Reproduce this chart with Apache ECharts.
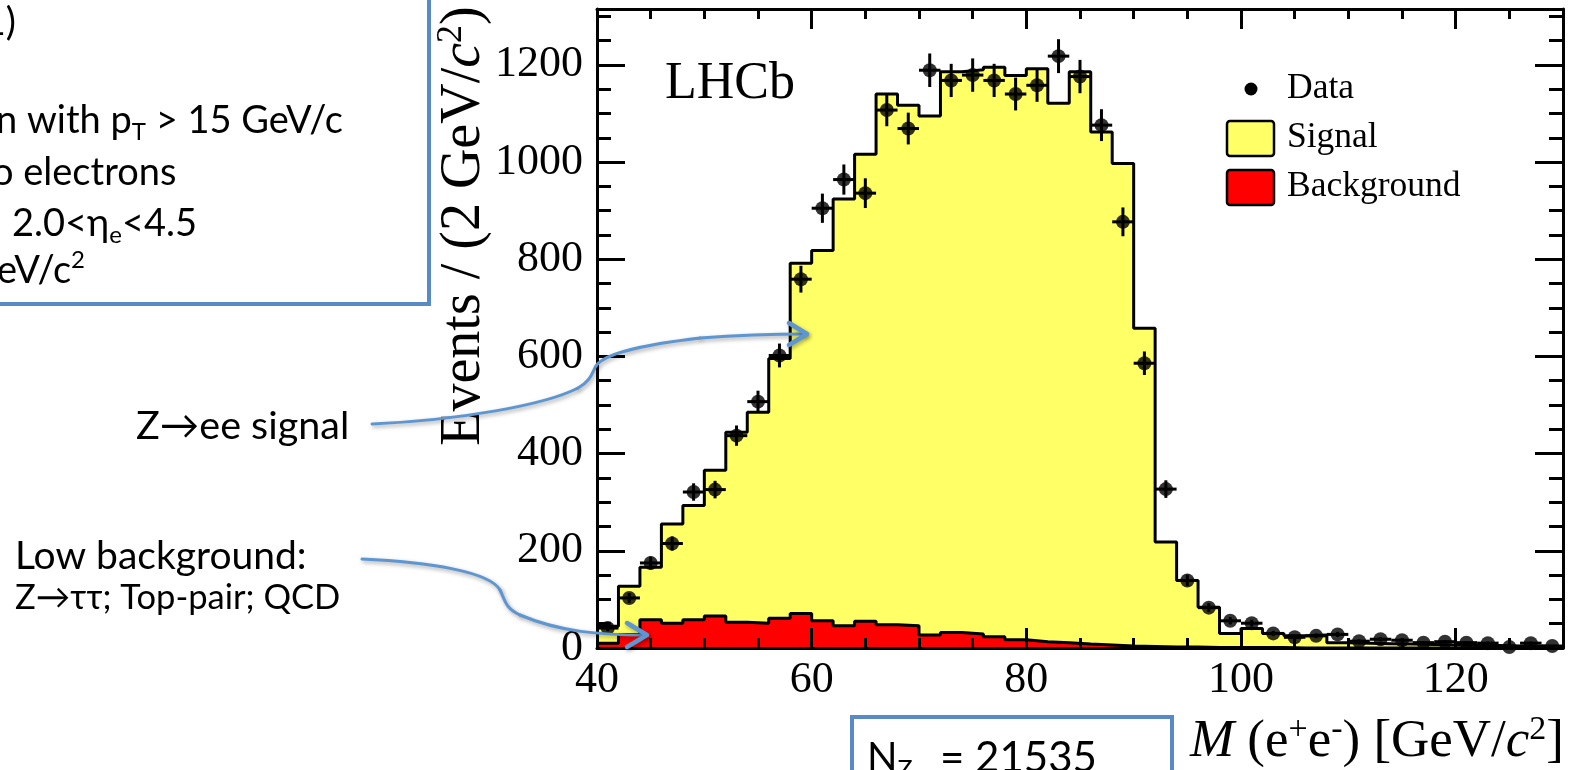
<!DOCTYPE html>
<html>
<head>
<meta charset="utf-8">
<title>Z → ee invariant mass</title>
<script src="https://cdn.jsdelivr.net/npm/echarts@6/dist/echarts.min.js"></script>
<style>
  html, body { margin: 0; padding: 0; background: #ffffff; }
  #chart { width: 1577px; height: 770px; }
</style>
</head>
<body>
<div id="chart"></div>
<script>
// Lower edges of the 2 GeV/c^2 mass bins
const binLow = [40, 42, 44, 46, 48, 50, 52, 54, 56, 58, 60, 62, 64, 66, 68, 70, 72, 74, 76, 78,
                80, 82, 84, 86, 88, 90, 92, 94, 96, 98, 100, 102, 104, 106, 108, 110, 112, 114, 116, 118,
                120, 122, 124, 126, 128];
const BIN_WIDTH = 2;

// Expected Z -> ee signal per bin (stacked on top of the background)
const signal = [35, 99, 108, 204, 235, 300, 391, 434, 535, 721,
                762, 878, 961, 1092, 1071, 1068, 1154, 1161, 1172, 1161,
                1179, 1110, 1178, 1056, 993, 655, 216, 137, 83, 29,
                39, 29, 25, 27, 11, 10, 9, 8, 7, 6,
                5, 5, 4, 4, 3];

// Background (Z -> tautau, top pairs, QCD) per bin
const background = [10, 28, 58, 51, 58, 66, 53, 51, 61, 71,
                    56, 46, 55, 48, 46, 27, 32, 29, 23, 17,
                    13, 11, 8, 6, 4, 3, 2, 2, 1, 1,
                    1, 1, 0, 0, 0, 0, 0, 0, 0, 0,
                    0, 0, 0, 0, 0];

// Observed events per bin
const observed = [41, 103, 175, 215, 321, 326, 437, 507, 602, 759,
                  905, 964, 936, 1107, 1069, 1189, 1168, 1179, 1168, 1140,
                  1158, 1218, 1176, 1076, 877, 586, 327, 139, 83, 56,
                  51, 30, 22, 25, 28, 14, 18, 16, 11, 13,
                  11, 10, 2, 10, 4];

const xTicks = { min: 40, max: 130, step: 20 };
const yTicks = { min: 0, max: 1315, step: 200 };

const SERIF = 'Liberation Serif';
const SANS = 'Lato';
const BOX_BLUE = '#5A8AC6';
const ARROW_BLUE = '#5E96D1';

// stacked expectation: background with the signal piled on top of it
const stackTop = signal.map((s, i) => s + background[i]);

// histogram step outlines: one point per lower edge plus the closing upper edge
function stepPoints(values) {
  const pts = binLow.map((x, i) => [x, values[i]]);
  pts.push([binLow[binLow.length - 1] + BIN_WIDTH, values[values.length - 1]]);
  return pts;
}

const dataPoints = binLow.map((x, i) => [x + BIN_WIDTH / 2, observed[i]]);

const tickLine = { color: '#000', width: 3 };

function xAxisDef(pos, labels) {
  return {
    type: 'value', position: pos, min: xTicks.min, max: xTicks.max, interval: xTicks.step,
    z: 10,
    axisLine: { show: true, onZero: false, lineStyle: tickLine },
    axisTick: { show: true, inside: true, length: 20, lineStyle: tickLine },
    minorTick: { show: true, splitNumber: 4, length: 10, lineStyle: tickLine },
    splitLine: { show: false },
    minorSplitLine: { show: false },
    axisLabel: {
      show: labels, margin: 10, showMaxLabel: false,
      formatter: v => String(v),
      fontFamily: SERIF, fontSize: 44, color: '#000'
    }
  };
}

function yAxisDef(pos, labels) {
  return {
    type: 'value', position: pos, min: yTicks.min, max: yTicks.max, interval: yTicks.step,
    z: 10,
    axisLine: { show: true, onZero: false, lineStyle: tickLine },
    axisTick: { show: true, inside: true, length: 28, lineStyle: tickLine },
    minorTick: { show: true, splitNumber: 4, length: 14, lineStyle: tickLine },
    splitLine: { show: false },
    minorSplitLine: { show: false },
    axisLabel: {
      show: labels, margin: 14, showMaxLabel: false,
      formatter: v => String(v),
      fontFamily: SERIF, fontSize: 44, color: '#000'
    }
  };
}

// rich-text styles for the slide annotations (sans) and the plot titles (serif)
function sansRich(size, lh) {
  const small = Math.round(size * 0.62);
  return {
    n: { fontFamily: SANS, fontSize: size, lineHeight: lh, fill: '#000' },
    b: { fontFamily: SANS, fontSize: small, lineHeight: small, verticalAlign: 'bottom', fill: '#000' },
    t: { fontFamily: SANS, fontSize: small, lineHeight: small, verticalAlign: 'top', fill: '#000' }
  };
}
function serifRich(size, lh) {
  const small = Math.round(size * 0.64);
  return {
    n: { fontFamily: SERIF, fontSize: size, lineHeight: lh, fill: '#000' },
    i: { fontFamily: SERIF, fontSize: size, lineHeight: lh, fontStyle: 'italic', fill: '#000' },
    s: { fontFamily: SERIF, fontSize: small, lineHeight: small, verticalAlign: 'top', fill: '#000' }
  };
}

function sansText(x, y, text, size, align) {
  return {
    type: 'text', x: x, y: y, z: 50,
    style: { text: text, rich: sansRich(size, size + 8), align: align || 'left', verticalAlign: 'middle',
             fontFamily: SANS, fontSize: size, fill: '#000' }
  };
}

const arrowStyle = {
  stroke: ARROW_BLUE, lineWidth: 3, fill: null, lineCap: 'round', lineJoin: 'round',
  shadowBlur: 4, shadowColor: 'rgba(0,0,0,0.35)', shadowOffsetX: 1.5, shadowOffsetY: 2
};

// a smooth connector made of cubic segments [x1, y1, cx1, cy1, cx2, cy2, x2, y2]
function connector(segments) {
  return segments.map(s => ({
    type: 'bezierCurve', z: 60,
    shape: { x1: s[0], y1: s[1], cpx1: s[2], cpy1: s[3], cpx2: s[4], cpy2: s[5], x2: s[6], y2: s[7] },
    style: arrowStyle
  }));
}
function arrowHead(points) {
  return { type: 'polyline', z: 60, shape: { points: points },
           style: Object.assign({}, arrowStyle, { lineWidth: 4.5 }) };
}

function legendText(y, text) {
  return { type: 'text', x: 1287, y: y, z: 50,
           style: { text: text, fontFamily: SERIF, fontSize: 35.5, fill: '#000', verticalAlign: 'middle' } };
}

const graphics = [
  // selection box (partly outside the page on the left/top)
  { type: 'rect', z: 40, shape: { x: -10, y: -10, width: 439, height: 314 },
    style: { fill: null, stroke: BOX_BLUE, lineWidth: 4 } },
  sansText(16, 23, '{n|1)}', 38, 'right'),
  sansText(-4, 121, '{n|n with p}{b|T}{n| > 15 GeV/c}', 38),
  sansText(-8, 173, '{n|o electrons}', 38),
  sansText(12, 224, '{n|2.0<η}{b|e}{n|<4.5}', 38),
  sansText(-3, 271, '{n|eV/c}{t|2}', 38),

  // signal / background annotations with curved arrows
  sansText(136, 426, '{n|Z→ee signal}', 39.5),
  sansText(15, 556, '{n|Low background:}', 39),
  sansText(15, 598, '{n|Z→ττ; Top-pair; QCD}', 34.5)
].concat(
  connector([
    [372, 424, 460, 420, 545, 405, 578, 388],
    [578, 388, 592, 380, 592, 372, 596, 366],
    [596, 366, 605, 352, 650, 344, 700, 338],
    [700, 338, 740, 335, 780, 334, 806, 334]
  ]),
  [arrowHead([[789, 323], [807, 334], [789, 345]])],
  connector([
    [362, 559, 430, 562, 490, 572, 500, 590],
    [500, 590, 505, 600, 505, 608, 520, 615],
    [520, 615, 560, 632, 600, 635, 646, 635]
  ]),
  [arrowHead([[627, 623], [647, 635], [627, 647]])],
  [
    // yield box at the bottom
    { type: 'rect', z: 40, shape: { x: 852, y: 717, width: 320, height: 80 },
      style: { fill: null, stroke: BOX_BLUE, lineWidth: 4 } },
    sansText(867, 758, '{n|N}{b|Z}', 40),
    sansText(940, 758, '{n|= 21535}', 42),

    // experiment label
    { type: 'text', x: 665, y: 84, z: 50,
      style: { text: 'LHCb', fontFamily: SERIF, fontSize: 52, fill: '#000', align: 'left', verticalAlign: 'middle' } },

    // axis titles
    { type: 'text', x: 464, y: 226, rotation: Math.PI / 2, z: 50,
      style: { text: '{n|Events / (2 GeV/}{i|c}{s|2}{n|)}', rich: serifRich(56, 60),
               align: 'center', verticalAlign: 'middle', fontFamily: SERIF, fontSize: 56, fill: '#000' } },
    { type: 'text', x: 1564, y: 742, z: 50,
      style: { text: '{i|M}{n| (e}{s|+}{n|e}{s|-}{n|) [GeV/}{i|c}{s|2}{n|]}', rich: serifRich(53, 57),
               align: 'right', verticalAlign: 'middle', fontFamily: SERIF, fontSize: 53, fill: '#000' } },

    // legend
    { type: 'circle', z: 50, shape: { cx: 1251, cy: 89, r: 6.5 }, style: { fill: '#000' } },
    { type: 'rect', z: 50, shape: { x: 1227, y: 121, width: 47, height: 35, r: 3 },
      style: { fill: '#ffff66', stroke: '#000', lineWidth: 2.5 } },
    { type: 'rect', z: 50, shape: { x: 1227, y: 170, width: 47, height: 35, r: 3 },
      style: { fill: '#ff0000', stroke: '#000', lineWidth: 2.5 } },
    legendText(89, 'Data'),
    legendText(138, 'Signal'),
    legendText(187, 'Background')
  ]
);

const chart = echarts.init(document.getElementById('chart'), null, { renderer: 'canvas' });

chart.setOption({
  animation: false,
  backgroundColor: '#ffffff',
  grid: { left: 597, right: 14, top: 9, bottom: 122, containLabel: false, outerBoundsMode: 'none' },
  xAxis: [xAxisDef('bottom', true), xAxisDef('top', false)],
  yAxis: [yAxisDef('left', true), yAxisDef('right', false)],
  series: [
    {
      name: 'Signal', type: 'line', step: 'end',
      xAxisIndex: 0, yAxisIndex: 0, z: 2,
      symbol: 'none', showSymbol: false,
      data: stepPoints(stackTop),
      lineStyle: { color: '#000', width: 3 },
      areaStyle: { color: '#ffff66', opacity: 1 }
    },
    {
      name: 'Background', type: 'line', step: 'end',
      xAxisIndex: 0, yAxisIndex: 0, z: 3,
      symbol: 'none', showSymbol: false,
      data: stepPoints(background),
      lineStyle: { color: '#000', width: 3 },
      areaStyle: { color: '#ff0000', opacity: 1 }
    },
    {
      name: 'Data errors', type: 'custom', xAxisIndex: 0, yAxisIndex: 0, z: 4,
      data: dataPoints,
      encode: { x: 0, y: 1 },
      renderItem: function (params, api) {
        const xc = api.value(0), n = api.value(1);
        const err = Math.sqrt(n);
        const h0 = api.coord([xc - BIN_WIDTH / 2, n]);
        const h1 = api.coord([xc + BIN_WIDTH / 2, n]);
        const v0 = api.coord([xc, n - err]);
        const v1 = api.coord([xc, n + err]);
        const st = { stroke: '#000', lineWidth: 3 };
        return {
          type: 'group',
          children: [
            { type: 'line', shape: { x1: h0[0], y1: h0[1], x2: h1[0], y2: h1[1] }, style: st },
            { type: 'line', shape: { x1: v0[0], y1: v0[1], x2: v1[0], y2: v1[1] }, style: st }
          ]
        };
      }
    },
    {
      name: 'Data', type: 'scatter', xAxisIndex: 0, yAxisIndex: 0, z: 5,
      symbol: 'circle', symbolSize: 14,
      data: dataPoints,
      itemStyle: { color: '#000' }
    }
  ],
  graphic: { elements: graphics }
});
</script>
</body>
</html>
